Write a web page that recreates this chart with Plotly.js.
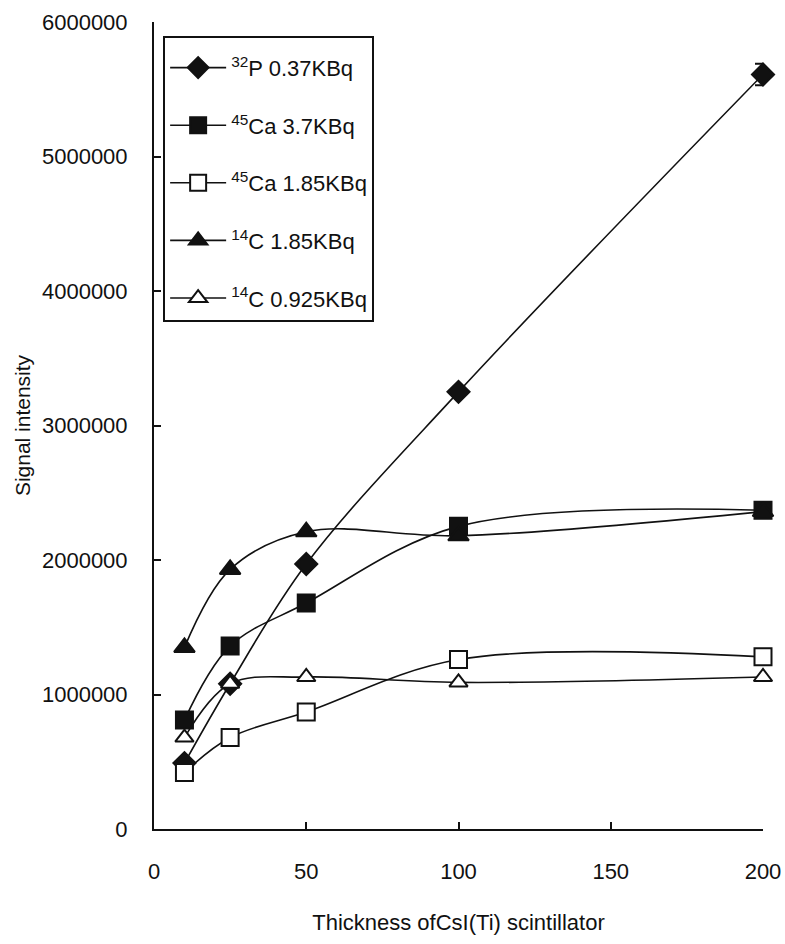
<!DOCTYPE html>
<html>
<head>
<meta charset="utf-8">
<script src="https://cdn.plot.ly/plotly-3.0.1.min.js"></script>
<style>
  html, body { margin: 0; padding: 0; background: #fff; }
  #chart { width: 785px; height: 944px; }
</style>
</head>
<body>
<div id="chart"></div>
<script>
// ---- data ----
const thickness = [10, 25, 50, 100, 200];

const seriesNames = [
  "<sup>32</sup>P 0.37KBq",
  "<sup>45</sup>Ca 3.7KBq",
  "<sup>45</sup>Ca 1.85KBq",
  "<sup>14</sup>C 1.85KBq",
  "<sup>14</sup>C 0.925KBq"
];

const p32_037   = [490000, 1080000, 1970000, 3250000, 5610000];
const p32_err   = [0, 0, 0, 0, 80000];
const ca45_37   = [810000, 1360000, 1680000, 2250000, 2370000];
const ca45_185  = [420000, 680000, 870000, 1260000, 1280000];
const c14_185   = [1350000, 1930000, 2210000, 2180000, 2360000];
const c14_0925  = [680000, 1080000, 1130000, 1090000, 1130000];

const xTickVals = [0, 50, 100, 150, 200];
const yTickVals = [0, 1000000, 2000000, 3000000, 4000000, 5000000, 6000000];

// ---- styling ----
const FONT = "Liberation Sans, Arial, sans-serif";
const INK = "#111";

function trace(y, name, group, symbol, fill, size, extra) {
  const t = {
    x: thickness, y: y, name: name, legendgroup: group,
    type: "scatter", mode: "lines+markers", cliponaxis: false,
    line: { color: INK, width: 1.6, shape: "spline", smoothing: 1 },
    marker: { symbol: symbol, size: size, color: fill, line: { color: INK, width: 2 } }
  };
  return Object.assign(t, extra || {});
}

const data = [
  trace(p32_037, seriesNames[0], "g1", "diamond", INK, 17, {
    error_y: { type: "data", array: p32_err, visible: true, color: INK, thickness: 2, width: 8 }
  }),
  trace(ca45_37,  seriesNames[1], "g2", "square", INK, 17),
  trace(ca45_185, seriesNames[2], "g3", "square", "#fff", 17),
  trace(c14_185,  seriesNames[3], "g4", "triangle-up", INK, 18),
  trace(c14_0925, seriesNames[4], "g5", "triangle-up", "#fff", 16)
];

const layout = {
  width: 785, height: 944,
  margin: { l: 154, r: 22, t: 22, b: 115 },
  paper_bgcolor: "#fff", plot_bgcolor: "#fff",
  font: { family: FONT, color: INK, size: 22 },
  showlegend: true,
  legend: {
    x: 0.015, y: 0.983, xanchor: "left", yanchor: "top",
    bgcolor: "#fff", bordercolor: INK, borderwidth: 2,
    font: { family: FONT, size: 22, color: INK },
    title: { text: " ", font: { family: FONT, size: 7, color: INK } },
    traceorder: "grouped", tracegroupgap: 26,
    itemwidth: 56,
    itemsizing: "trace"
  },
  xaxis: {
    range: [0, 200], tickvals: xTickVals, ticktext: xTickVals.map(String),
    showline: true, linecolor: INK, linewidth: 2,
    ticks: "inside", ticklen: 7, tickwidth: 2, tickcolor: INK,
    showgrid: false, zeroline: false,
    tickfont: { family: FONT, size: 22, color: INK },
    ticklabelstandoff: 22,
    title: { text: "Thickness ofCsI(Ti) scintillator", font: { family: FONT, size: 22, color: INK }, standoff: 31 }
  },
  yaxis: {
    range: [0, 6000000], tickvals: yTickVals, ticktext: yTickVals.map(String),
    showline: true, linecolor: INK, linewidth: 2,
    ticks: "inside", ticklen: 7, tickwidth: 2, tickcolor: INK,
    showgrid: false, zeroline: false,
    tickfont: { family: FONT, size: 22, color: INK },
    ticklabelstandoff: 20,
    title: { text: "Signal intensity", font: { family: FONT, size: 21, color: INK }, standoff: 6 }
  }
};

Plotly.newPlot("chart", data, layout, { displayModeBar: false, staticPlot: true });
</script>
</body>
</html>
